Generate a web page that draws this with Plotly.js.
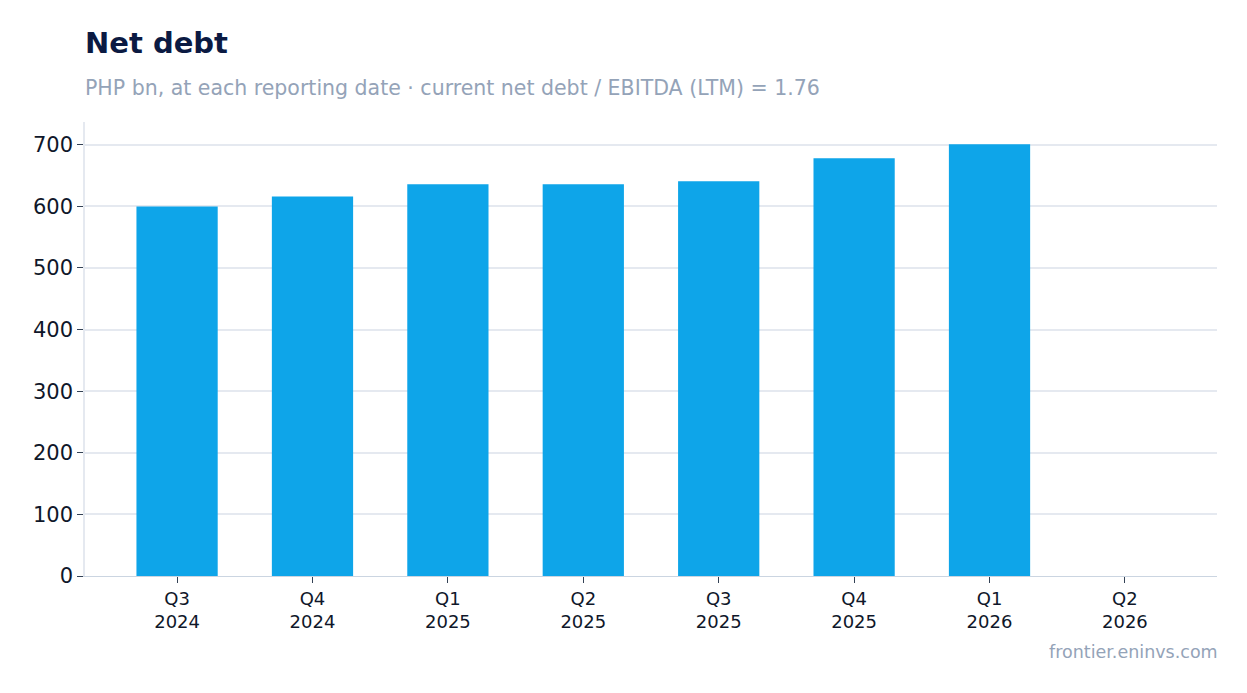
<!DOCTYPE html>
<html>
<head>
<meta charset="utf-8">
<script src="https://cdn.plot.ly/plotly-3.0.1.min.js"></script>
<style>
    html, body { margin: 0; padding: 0; background: #ffffff; }
    #main-screen { width: 1247px; height: 693px; }
</style>
</head>
<body>
<div id="main-screen"></div>
<script>
// ------------------------------------------------------------------------------
// DATA

const quarters  = ['Q3', 'Q4', 'Q1', 'Q2', 'Q3', 'Q4', 'Q1', 'Q2'];
const years     = ['2024', '2024', '2025', '2025', '2025', '2025', '2026', '2026'];
const net_debt  = [600, 616, 636, 636, 641, 678, 701, null];

const leverage  = 1.76;

// ------------------------------------------------------------------------------
// PARAMETERS

const font_family = '"DejaVu Sans", Verdana, sans-serif';
const bar_color   = '#0ea5e9';
const grid_color  = '#e5e9f0';
const muted_color = '#94a3b8';
const text_color  = '#0f172a';

// plot box in pixels, used to place the free texts
const plot_top    = 122;
const plot_bottom = 576;
const plot_h      = plot_bottom - plot_top;

const tick_labels = quarters.map((q, i) => q + '<br>' + years[i]);

const displayConfig = {
    displayModeBar: false,
    responsive: false
};

const bars = {
    x: tick_labels,
    y: net_debt,
    type: 'bar',
    marker: { color: bar_color },
    hoverinfo: 'none'
};

function paper_y(py) {
    return (plot_bottom - py) / plot_h;
}

var layout = {
    width : 1247,
    height: 693,
    showlegend: false,
    paper_bgcolor: '#ffffff',
    plot_bgcolor : '#ffffff',
    bargap: 0.4,
    font: { family: font_family, color: text_color },
    margin: {
        l: 85,
        r: 30,
        t: plot_top,
        b: 693 - plot_bottom,
        pad: 0
    },
    title: {
        text: '<b>Net debt</b>',
        font: { family: font_family, size: 29, color: '#0b1a42' },
        xref: 'container',
        yref: 'container',
        x: 85 / 1247,
        xanchor: 'left',
        y: 1 - 33 / 693,
        yanchor: 'top'
    },
    xaxis: {
        type: 'category',
        range: [-0.68, tick_labels.length - 0.32],
        autorange: false,
        ticks: 'outside',
        ticklen: 6,
        tickcolor: '#334155',
        tickfont: { size: 18, color: text_color },
        showgrid: false,
        showline: true,
        linecolor: '#cbd5e1',
        linewidth: 1,
        zeroline: false
    },
    yaxis: {
        ticks: 'outside',
        ticklen: 6,
        tickcolor: '#334155',
        tickfont: { size: 21, color: text_color },
        dtick: 100,
        range: [0, 737],
        autorange: false,
        showgrid: true,
        gridcolor: grid_color,
        gridwidth: 1.5,
        showline: true,
        linecolor: grid_color,
        linewidth: 1.5,
        zeroline: false
    },
    annotations: [
        {
            text: 'PHP bn, at each reporting date · current net debt / EBITDA (LTM) = ' + leverage.toFixed(2),
            xref: 'paper',
            yref: 'paper',
            x: 0,
            xanchor: 'left',
            xshift: -2,
            y: paper_y(88),
            yanchor: 'middle',
            showarrow: false,
            font: { family: font_family, size: 20.5, color: muted_color }
        },
        {
            text: 'frontier.eninvs.com',
            xref: 'paper',
            yref: 'paper',
            x: 1,
            xanchor: 'right',
            xshift: 3,
            y: paper_y(652),
            yanchor: 'middle',
            showarrow: false,
            font: { family: font_family, size: 17.5, color: muted_color }
        }
    ]
};

Plotly.newPlot('main-screen', [bars], layout, displayConfig);
</script>
</body>
</html>
